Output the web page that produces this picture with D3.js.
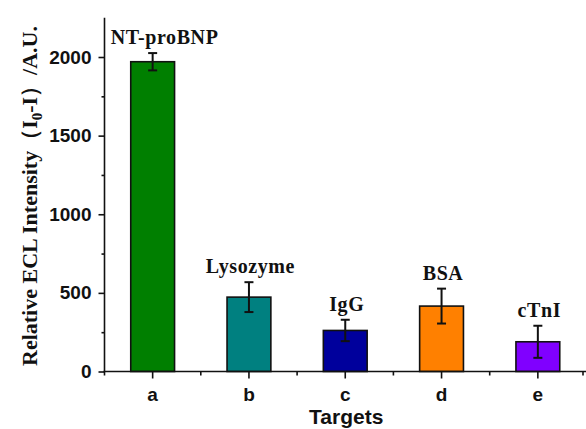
<!DOCTYPE html>
<html>
<head>
<meta charset="utf-8">
<script src="https://cdn.jsdelivr.net/npm/d3@7"></script>
<style>
  html, body { margin: 0; padding: 0; background: #fff; }
  svg { display: block; }
</style>
</head>
<body>
<svg id="chart" width="586" height="429"></svg>
<script>
// ECL response of the sensor to NT-proBNP and interfering proteins
const categories = ["a", "b", "c", "d", "e"];
const targets = ["NT-proBNP", "Lysozyme", "IgG", "BSA", "cTnI"];
const intensity = [1970, 473, 261, 416, 189];
const errors = [55, 95, 68, 111, 102];
const colors = ["#007f00", "#008080", "#00009c", "#ff8000", "#8000ff"];
const yTicks = [0, 500, 1000, 1500, 2000];
const yMinorTicks = [250, 750, 1250, 1750];

const svg = d3.select("#chart");
const x0 = 104.5, x1 = 586, yTop = 17.7, yBase = 371.5;

const x = d3.scaleBand().domain(categories).range([x0, x1]).paddingInner(0).paddingOuter(0);
const y = d3.scaleLinear().domain([0, 2250]).range([yBase, yTop]);

const barW = x.bandwidth() * 0.455;

// bars
svg.append("g").selectAll("rect")
  .data(categories)
  .join("rect")
  .attr("x", (d) => x(d) + x.bandwidth() / 2 - barW / 2)
  .attr("y", (d, i) => y(intensity[i]))
  .attr("width", barW)
  .attr("height", (d, i) => y(0) - y(intensity[i]))
  .attr("fill", (d, i) => colors[i])
  .attr("stroke", "#111")
  .attr("stroke-width", 1.6);

// error bars
const eb = svg.append("g").attr("stroke", "#111").attr("stroke-width", 2);
categories.forEach((c, i) => {
  const cx = x(c) + x.bandwidth() / 2;
  const hi = y(intensity[i] + errors[i]);
  const lo = y(intensity[i] - errors[i]);
  eb.append("line").attr("x1", cx).attr("x2", cx).attr("y1", hi).attr("y2", lo);
  eb.append("line").attr("x1", cx - 4.5).attr("x2", cx + 4.5).attr("y1", hi).attr("y2", hi);
  eb.append("line").attr("x1", cx - 4.5).attr("x2", cx + 4.5).attr("y1", lo).attr("y2", lo);
});

// target names above the error bars
svg.append("g").selectAll("text")
  .data(targets)
  .join("text")
  .attr("x", (d, i) => x(categories[i]) + x.bandwidth() / 2 + (i === 0 ? 12 : 1.5))
  .attr("y", (d, i) => y(intensity[i] + errors[i]) - 9)
  .attr("text-anchor", "middle")
  .attr("font-family", "'Liberation Serif', 'Times New Roman', serif")
  .attr("font-weight", "bold")
  .attr("font-size", 20)
  .attr("letter-spacing", 0.6)
  .attr("fill", "#111")
  .text((d) => d);

// y axis
const yAxis = svg.append("g").attr("transform", `translate(${x0},0)`);
yAxis.call(d3.axisLeft(y).tickValues(yTicks).tickFormat(d3.format("d"))
  .tickSize(6).tickPadding(7).tickSizeOuter(0));
yAxis.append("g").call(d3.axisLeft(y).tickValues(yMinorTicks).tickSize(3).tickFormat(""));
yAxis.selectAll(".domain").attr("stroke", "#111").attr("stroke-width", 1.6);
yAxis.selectAll(".tick line").attr("stroke", "#111").attr("stroke-width", 1.6);
yAxis.selectAll("path.domain").filter(function () { return this.parentNode !== yAxis.node(); }).remove();
yAxis.select("path.domain").attr("d", `M0,${yBase}V${yTop}`);
yAxis.selectAll(".tick text")
  .attr("font-family", "'Liberation Sans', Arial, sans-serif")
  .attr("font-weight", "bold")
  .attr("font-size", 19)
  .attr("fill", "#111");

// x axis
const xAxis = svg.append("g").attr("transform", `translate(0,${yBase})`);
xAxis.call(d3.axisBottom(x).tickSize(7).tickPadding(9).tickSizeOuter(0));
xAxis.select(".domain").attr("stroke", "#111").attr("stroke-width", 1.6).attr("d", `M${x0 - 1},0H${x1}`);
const edges = categories.map((c) => x(c)).concat([x1 - 3]);
xAxis.append("g").selectAll("line")
  .data(edges)
  .join("line")
  .attr("x1", (d) => d).attr("x2", (d) => d)
  .attr("y1", 0).attr("y2", 4);
xAxis.selectAll("line").attr("stroke", "#111").attr("stroke-width", 1.6);
xAxis.selectAll(".tick text")
  .attr("font-family", "'Liberation Sans', Arial, sans-serif")
  .attr("font-weight", "bold")
  .attr("font-size", 19)
  .attr("fill", "#111");

// axis titles
svg.append("text")
  .attr("x", (x0 + x1) / 2 + 1)
  .attr("y", 424)
  .attr("text-anchor", "middle")
  .attr("font-family", "'Liberation Sans', Arial, sans-serif")
  .attr("font-weight", "bold")
  .attr("font-size", 21)
  .attr("fill", "#111")
  .text("Targets");

const yt = svg.append("text")
  .attr("transform", "translate(37,196) rotate(-90)")
  .attr("text-anchor", "middle")
  .attr("font-family", "'Liberation Serif', 'Times New Roman', serif")
  .attr("font-weight", "bold")
  .attr("font-size", 22)
  .attr("fill", "#111");
yt.append("tspan").text("Relative ECL Intensity（I");
yt.append("tspan").attr("font-size", 15).attr("dy", 5).text("0");
yt.append("tspan").attr("dy", -5).text("-I）/A.U.");
</script>
</body>
</html>
